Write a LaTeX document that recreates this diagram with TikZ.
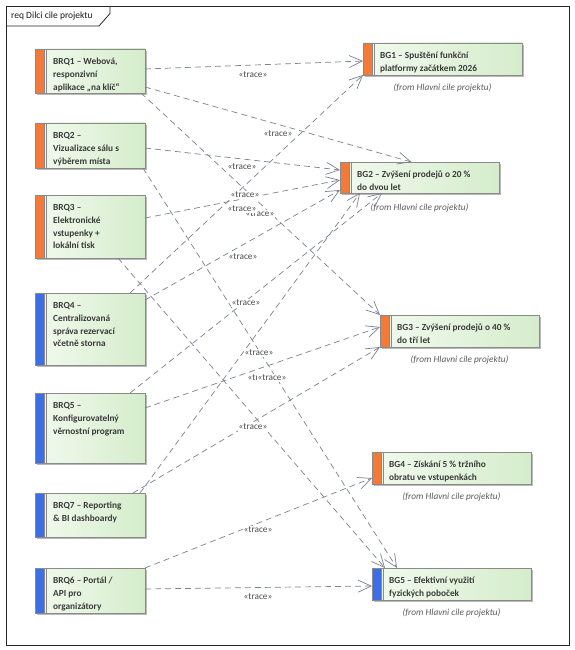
\documentclass[tikz,border=0pt]{standalone}
\usepackage{fontspec}
\setmainfont{Carlito}
\usetikzlibrary{arrows.meta,shadows}

\definecolor{reqorange}{HTML}{F47A3A}
\definecolor{reqblue}{HTML}{3C6FE6}
\definecolor{boxlight}{HTML}{F2FAEE}
\definecolor{boxgreen}{HTML}{D5EDCC}
\definecolor{boxedge}{HTML}{8A8A8A}
\definecolor{tracecol}{HTML}{7B8095}
\definecolor{inktext}{HTML}{3A3A3A}
\definecolor{fromtext}{HTML}{5A5A5A}

% baseline of the last line of a text block whose first baseline sits
% 15.5pt below the element top, with 12.8pt line pitch
\newcommand\lastbase[1]{\fpeval{-15.5-12.8*(#1-1)}pt}

\tikzset{
  elem/.style={draw=boxedge, line width=0.7pt, outer sep=0pt, inner sep=0pt,
    left color=boxlight, right color=boxgreen,
    drop shadow={shadow xshift=2pt, shadow yshift=-2pt, fill=black!45, opacity=0.6},
    anchor=north west},
  stripe/.style={path picture={
      \fill[#1] (path picture bounding box.north west) rectangle
                ([xshift=9pt]path picture bounding box.south west);
      \draw[boxedge, line width=0.5pt]
        ([xshift=9pt]path picture bounding box.north west) --
        ([xshift=9pt]path picture bounding box.south west);
      \draw[boxedge, line width=0.5pt]
        ([xshift=11.5pt]path picture bounding box.north west) --
        ([xshift=11.5pt]path picture bounding box.south west);}},
  reqbox/.style={elem, minimum width=110pt},
  goalbox/.style={elem, minimum width=159pt, minimum height=32pt},
  elemtext/.style={font=\bfseries\fontsize{9.3}{12.8}\selectfont, text=inktext,
    align=left, inner sep=0pt, anchor=base west},
  fromnote/.style={font=\itshape\fontsize{9.3}{11}\selectfont, text=fromtext,
    inner sep=0pt, anchor=base},
  trace/.style={draw=tracecol, line width=0.7pt, dash pattern=on 6pt off 4pt,
    -{Straight Barb[length=13pt, width=12pt, line width=0.7pt]}},
  tracelbl/.style={font=\fontsize{9.3}{11}\selectfont, text=black!70,
    fill=white, inner sep=1pt}
}

\begin{document}
\begin{tikzpicture}[x=1pt, y=-1pt]
\useasboundingbox (0,0) rectangle (575,650);

% diagram frame with its name tab
\draw[black!85, line width=0.8pt] (6,6) rectangle (569,645);
\draw[black!85, line width=0.8pt] (110,6) -- (110,13.5) -- (99,26) -- (6,26);
\node[anchor=west, inner sep=0pt, font=\fontsize{9.5}{11}\selectfont, text=black!90]
  (title) at (11,16) {req Dilci cile projektu};

% business requirements
\node[reqbox, stripe=reqorange, minimum height=44pt] (q1) at (35,49) {};
\node[reqbox, stripe=reqorange, minimum height=45pt] (q2) at (35,123) {};
\node[reqbox, stripe=reqorange, minimum height=63pt] (q3) at (35,195) {};
\node[reqbox, stripe=reqblue,   minimum height=72pt] (q4) at (35,293) {};
\node[reqbox, stripe=reqblue,   minimum height=70pt] (q5) at (35,393) {};
\node[reqbox, stripe=reqblue,   minimum height=44pt] (q7) at (35,493) {};
\node[reqbox, stripe=reqblue,   minimum height=45pt] (q6) at (35,568) {};

\node[elemtext] (q1t) at ([xshift=18pt, yshift=\lastbase{3}]q1.north west)
  {BRQ1 – Webová,\\responzivní\\aplikace „na klíč“};
\node[elemtext] (q2t) at ([xshift=18pt, yshift=\lastbase{3}]q2.north west)
  {BRQ2 –\\Vizualizace sálu s\\výběrem místa};
\node[elemtext] (q3t) at ([xshift=18pt, yshift=\lastbase{4}]q3.north west)
  {BRQ3 –\\Elektronické\\vstupenky +\\lokální tisk};
\node[elemtext] (q4t) at ([xshift=18pt, yshift=\lastbase{4}]q4.north west)
  {BRQ4 –\\Centralizovaná\\správa rezervací\\včetně storna};
\node[elemtext] (q5t) at ([xshift=18pt, yshift=\lastbase{3}]q5.north west)
  {BRQ5 –\\Konfigurovatelný\\věrnostní program};
\node[elemtext] (q7t) at ([xshift=18pt, yshift=\lastbase{2}]q7.north west)
  {BRQ7 – Reporting\\\& BI dashboardy};
\node[elemtext] (q6t) at ([xshift=18pt, yshift=\lastbase{3}]q6.north west)
  {BRQ6 – Portál /\\API pro\\organizátory};

% business goals
\node[goalbox, stripe=reqorange] (g1) at (363,43) {};
\node[goalbox, stripe=reqorange, minimum height=31pt] (g2) at (340,162) {};
\node[goalbox, stripe=reqorange] (g3) at (380,315) {};
\node[goalbox, stripe=reqorange] (g4) at (372,452) {};
\node[goalbox, stripe=reqblue]   (g5) at (372,568) {};

\node[elemtext] (g1t) at ([xshift=17pt, yshift=\lastbase{2}]g1.north west)
  {BG1 – Spuštění funkční\\platformy začátkem 2026};
\node[elemtext] (g2t) at ([xshift=17pt, yshift=\lastbase{2}]g2.north west)
  {BG2 – Zvýšení prodejů o 20 \%\\do dvou let};
\node[elemtext] (g3t) at ([xshift=17pt, yshift=\lastbase{2}]g3.north west)
  {BG3 – Zvýšení prodejů o 40 \%\\do tří let};
\node[elemtext] (g4t) at ([xshift=17pt, yshift=\lastbase{2}]g4.north west)
  {BG4 – Získání 5 \% tržního\\obratu ve vstupenkách};
\node[elemtext] (g5t) at ([xshift=17pt, yshift=\lastbase{2}]g5.north west)
  {BG5 – Efektivní využití\\fyzických poboček};

\node[fromnote] (g1f) at ([yshift=-15.5pt]g1.south) {(from Hlavni cile projektu)};
\node[fromnote] (g2f) at ([yshift=-17pt]g2.south) {(from Hlavni cile projektu)};
\node[fromnote] (g3f) at ([yshift=-15.5pt]g3.south) {(from Hlavni cile projektu)};
\node[fromnote] (g4f) at ([yshift=-15.5pt]g4.south) {(from Hlavni cile projektu)};
\node[fromnote] (g5f) at ([yshift=-15.5pt]g5.south) {(from Hlavni cile projektu)};

% trace dependencies
\draw[trace] ([yshift=2pt]q1.east) -- ([yshift=-2pt]g1.west);
\draw[trace] ([yshift=-16pt]q1.east) -- ([xshift=-8pt]g2.north);
\draw[trace] ([xshift=-4pt]q1.south east) -- (g3.north west);
\draw[trace] ([yshift=-2.5pt]q2.east) -- ([yshift=7.5pt]g2.west);
\draw[trace] ([xshift=-2pt]q2.south east) -- ([xshift=25pt]g5.north west);
\draw[trace] ([yshift=8.5pt]q3.east) -- ([yshift=-2.5pt]g2.west);
\draw[trace] ([xshift=-27pt]q3.south east) -- ([xshift=13pt]g5.north west);
\draw[trace] ([xshift=-15pt]q4.north east) -- (g1.south west);
\draw[trace] ([yshift=-7pt]q4.north east) -- ([yshift=3pt]g2.south west);
\draw[trace] ([xshift=-15pt]q5.north east) -- ([xshift=42pt]g2.south west);
\draw[trace] ([yshift=-15pt]q5.north east) -- ([yshift=4pt]g3.west);
\draw[trace] ([xshift=-5pt]q7.north east) -- ([xshift=20pt]g2.south west);
\draw[trace] ([xshift=-12pt]q7.north east) -- (g3.south west);
\draw[trace] (q6.north east) -- ([yshift=6pt]g4.south west);
\draw[trace] ([yshift=1.5pt]q6.east) -- ([yshift=-2pt]g5.west);

% stereotype labels
\node[tracelbl] (l1)  at (253,75)  {«trace»};
\node[tracelbl] (l2)  at (278,134) {«trace»};
\node[tracelbl] (l4)  at (242,167) {«trace»};
\node[tracelbl] (l3)  at (260,214) {«trace»};
\node[tracelbl] (l8)  at (245,195) {«trace»};
\node[tracelbl] (l6)  at (242,209) {«trace»};
\node[tracelbl] (l9)  at (243,257) {«trace»};
\node[tracelbl] (l10) at (246,303) {«trace»};
\node[tracelbl] (l12) at (259,353) {«trace»};
\node[tracelbl] (l11) at (262,378) {«trace»};
\node[tracelbl] (l5)  at (272,378) {«trace»};
\node[tracelbl] (l13) at (253,427) {«trace»};
\node[tracelbl] (l14) at (258,530) {«trace»};
\node[tracelbl] (l15) at (258,597) {«trace»};
\end{tikzpicture}
\end{document}
